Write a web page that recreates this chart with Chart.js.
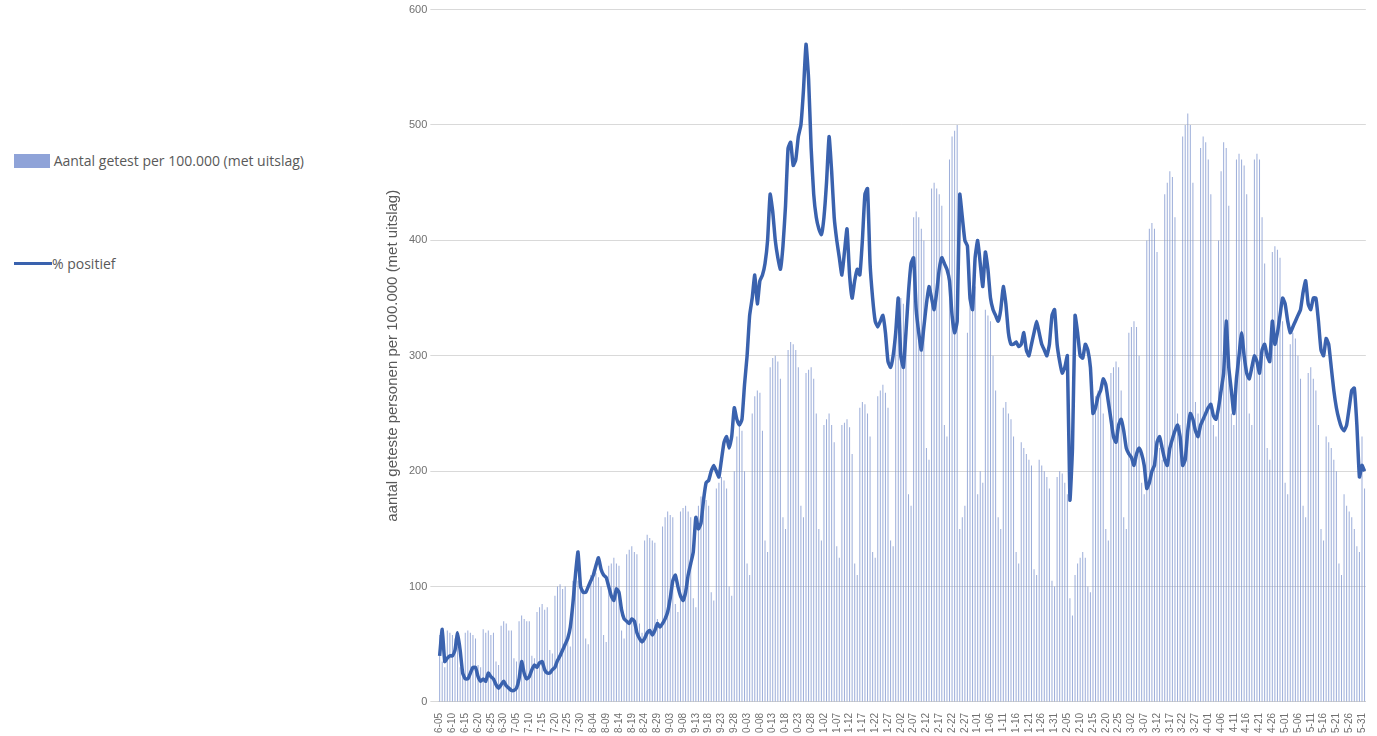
<!DOCTYPE html>
<html lang="nl">
<head>
<meta charset="UTF-8">
<title>Aantal getest en % positief</title>
<style>
    body { margin: 0; background: #fff; font-family: 'Open Sans', 'Noto Sans', sans-serif; }
    .wrap { position: relative; width: 1377px; height: 736px; }
    .legend { position: absolute; left: 14px; color: #595959; font-size: 14px; }
    .legend span.box { display: inline-block; width: 36px; height: 14px; background: #8fa3d8; vertical-align: -2px; }
    .legend span.ln { display: inline-block; width: 38px; height: 3px; background: #3a62ae; vertical-align: 4px; }
    #chartBox { position: absolute; left: 380px; top: 0; width: 997px; height: 736px; }
</style>
<script src="https://cdn.jsdelivr.net/npm/chart.js"></script>
</head>
<body>
<div class="wrap">
    <div class="legend" style="top:151px"><span class="box"></span> Aantal getest per 100.000 (met uitslag)</div>
    <div class="legend" style="top:254px"><span class="ln"></span>% positief</div>
    <div id="chartBox"><canvas id="c"></canvas></div>
</div>
<script>
// weken vanaf vrijdag 2020-06-05 (vr..do)
const getest = [
    58,35,30,62,60,58,55,  52,30,28,60,62,60,58,  55,32,30,63,60,62,58,  60,35,32,66,70,68,62,
    62,38,35,70,75,72,70,  70,40,38,78,82,85,80,  82,45,42,92,100,102,98,  100,55,48,105,108,105,102,
    98,55,50,110,115,112,108,  100,58,52,118,120,125,120,  118,62,55,128,132,135,130,  128,68,60,140,145,142,140,
    138,72,65,152,160,165,162,  160,85,78,165,168,170,165,  160,90,82,170,178,182,175,  170,95,88,185,190,195,192,
    185,100,92,200,230,240,235,  200,120,110,250,265,270,268,  235,140,130,290,298,300,295,  280,160,150,305,312,310,305,
    290,170,160,285,288,290,280,  250,150,140,240,245,250,240,  225,135,125,240,242,245,238,  215,120,110,255,260,258,250,
    230,130,125,265,270,275,268,  255,140,135,330,345,350,345,  320,180,170,420,425,420,410,  400,220,210,445,450,445,440,
    430,240,230,470,490,495,500,  150,160,170,320,350,355,360,  180,200,190,340,335,330,300,  270,160,150,255,260,250,245,
    230,130,120,225,220,215,210,  205,115,110,210,205,200,195,  185,105,100,195,200,198,190,  180,90,75,110,120,125,130,
    125,100,95,260,265,270,275,  250,150,140,285,290,295,290,  270,160,150,320,325,330,325,  300,190,180,400,410,415,410,
    390,220,210,440,450,460,455,  420,250,240,490,500,510,500,  450,260,250,480,490,485,470,  440,240,230,400,460,485,480,
    430,250,240,470,475,470,465,  440,250,240,470,475,470,420,  380,220,210,390,395,392,385,  330,190,180,310,320,315,300,
    280,170,160,285,290,280,270,  240,150,140,230,225,220,210,  200,120,110,180,170,165,160,  150,135,130,230,185
];
const positief = [
    40,63,35,38,40,40,45,  60,45,25,20,20,25,30,  30,22,18,20,18,25,22,  20,15,12,15,18,14,12,
    10,10,12,20,35,25,20,  22,28,32,30,34,35,28,  25,25,28,30,36,40,45,  50,55,65,85,110,130,100,
    95,95,100,105,110,118,125,  115,110,108,100,92,88,98,  95,80,72,70,68,72,70,  60,55,52,55,60,62,58,
    62,68,65,68,72,78,90,  105,110,100,92,88,95,110,  120,130,160,150,155,175,190,  192,200,205,200,195,210,225,
    230,220,230,255,245,240,245,  275,300,335,350,370,345,365,  370,380,400,440,425,400,385,  375,395,430,480,485,465,470,
    490,500,530,570,540,480,440,  420,410,405,420,450,490,460,  420,400,385,370,390,410,370,  350,365,375,370,400,440,445,
    380,350,330,325,330,335,320,  295,290,300,320,350,300,290,  320,355,380,385,340,320,305,  325,345,360,350,340,355,375,
    385,380,375,365,335,320,330,  440,420,400,395,350,340,385,  400,380,360,390,375,350,340,  335,330,340,360,345,320,310,
    310,312,308,310,320,305,300,  310,320,330,320,310,305,300,  310,335,340,310,295,285,290,  300,175,220,335,320,300,298,
    310,305,290,250,255,265,270,  280,275,260,245,230,225,240,  245,235,220,215,212,205,215,  220,215,205,185,190,200,205,
    225,230,220,210,205,220,228,  235,240,230,205,210,235,250,  245,235,230,240,245,250,255,  258,248,245,255,270,285,330,
    290,270,250,280,300,320,300,  285,280,290,300,295,285,305,  310,300,295,330,310,320,335,  350,345,330,320,325,330,335,
    340,355,365,345,340,350,350,  330,305,300,315,310,290,270,  255,245,238,235,240,255,270,  272,240,195,205,200
];

// datumlabels: laatste vier tekens van "MM-DD", zoals in het origineel afgekapt
const labels = [];
const d = new Date(2020, 5, 5);
for (let i = 0; i < getest.length; i++) {
    const mm = String(d.getMonth() + 1).padStart(2, '0');
    const dd = String(d.getDate()).padStart(2, '0');
    labels.push((mm + '-' + dd).slice(-4));
    d.setDate(d.getDate() + 1);
}

new Chart(document.getElementById('c'), {
    data: {
        labels: labels,
        datasets: [
            {
                type: 'line',
                label: '% positief',
                data: positief,
                borderColor: '#3a62ae',
                borderWidth: 3.5,
                pointRadius: 0,
                tension: 0.15
            },
            {
                type: 'bar',
                label: 'Aantal getest per 100.000 (met uitslag)',
                data: getest,
                backgroundColor: 'rgba(125,148,205,0.75)',
                barPercentage: 0.4,
                categoryPercentage: 1
            }
        ]
    },
    options: {
        responsive: true,
        maintainAspectRatio: false,
        animation: false,
        layout: { padding: { top: 4, right: 0 } },
        plugins: { legend: { display: false }, tooltip: { enabled: false } },
        scales: {
            x: {
                grid: { display: false },
                border: { color: '#d0d0d0' },
                ticks: {
                    autoSkip: false,
                    maxRotation: 90,
                    minRotation: 90,
                    color: '#707070',
                    font: { size: 10 },
                    callback: function (v, i) { return i % 5 === 0 ? labels[i] : null; }
                }
            },
            y: {
                min: 0,
                max: 600,
                ticks: { stepSize: 100, color: '#707070', font: { size: 11 } },
                grid: { color: '#d9d9d9' },
                border: { display: false },
                title: {
                    display: true,
                    text: 'aantal geteste personen per 100.000 (met uitslag)',
                    color: '#595959',
                    font: { size: 15 }
                }
            }
        }
    }
});
</script>
</body>
</html>
